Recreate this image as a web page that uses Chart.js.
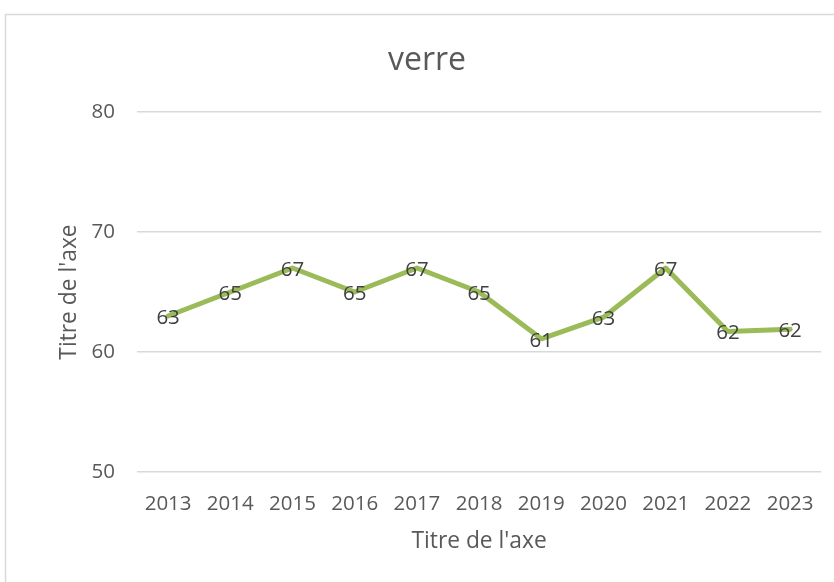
<!DOCTYPE html>
<html>
<head>
<meta charset="utf-8">
<script src="https://cdn.jsdelivr.net/npm/chart.js@4/dist/chart.umd.min.js"></script>
<style>
  html, body { margin: 0; padding: 0; background: #ffffff; }
  canvas { display: block; }
</style>
</head>
<body>
<canvas id="c" width="834" height="582"></canvas>
<script>
const chartTitle = "verre";
const axisTitle = "Titre de l'axe";
const years = ["2013", "2014", "2015", "2016", "2017", "2018", "2019", "2020", "2021", "2022", "2023"];
const verreValues = [63, 65, 67, 65, 67, 65, 61.1, 62.9, 67, 61.7, 61.9];
const yTicks = [50, 60, 70, 80];

const FONT = "'Open Sans', 'DejaVu Sans', sans-serif";
const TEXT = "#595959";

const frame = {
  id: 'frame',
  beforeDraw(chart) {
    const ctx = chart.ctx;
    ctx.save();
    ctx.fillStyle = '#ffffff';
    ctx.fillRect(0, 0, chart.width, chart.height);
    ctx.strokeStyle = '#d9d9d9';
    ctx.lineWidth = 1.5;
    ctx.strokeRect(5.5, 14.5, 1000, 1000);
    ctx.restore();
  },
  afterLayout(chart) {
    if (chart.titleBlock) {
      chart.titleBlock.left = 30;
      chart.titleBlock.right = 824;
    }
  }
};

const dataLabels = {
  id: 'dataLabels',
  afterDatasetsDraw(chart) {
    const ctx = chart.ctx;
    ctx.save();
    ctx.font = "20.5px " + FONT;
    ctx.fillStyle = '#404040';
    ctx.textAlign = 'center';
    ctx.textBaseline = 'middle';
    chart.getDatasetMeta(0).data.forEach((pt, i) => {
      const v = chart.data.datasets[0].data[i];
      ctx.fillText(String(Math.round(v)), pt.x, pt.y + 2);
    });
    ctx.restore();
  }
};

new Chart(document.getElementById('c'), {
  type: 'line',
  data: {
    labels: years,
    datasets: [{
      label: chartTitle,
      data: verreValues,
      borderColor: '#9BBB59',
      backgroundColor: '#9BBB59',
      borderWidth: 5,
      borderJoinStyle: 'round',
      borderCapStyle: 'round',
      pointRadius: 0,
      tension: 0,
      fill: false
    }]
  },
  options: {
    responsive: false,
    animation: false,
    events: [],
    layout: { padding: { left: 0, right: 10, top: 0, bottom: 0 } },
    plugins: {
      legend: { display: false },
      tooltip: { enabled: false },
      title: {
        display: true,
        text: chartTitle,
        color: TEXT,
        font: { family: FONT, size: 32, weight: 'normal', lineHeight: 1.2 },
        padding: { top: 41.6, bottom: 32 }
      }
    },
    scales: {
      x: {
        offset: true,
        grid: { display: false, drawTicks: false },
        border: { display: false },
        ticks: {
          color: TEXT,
          font: { family: FONT, size: 20.5 },
          padding: 20,
          maxRotation: 0,
          autoSkip: false
        },
        title: {
          display: true,
          text: axisTitle,
          color: TEXT,
          font: { family: FONT, size: 22.8, lineHeight: 1.2 },
          padding: { top: 0, bottom: 27.3 }
        },
        afterFit(s) { s.height = 110; }
      },
      y: {
        min: 50,
        max: 80,
        afterBuildTicks(s) { s.ticks = yTicks.map(v => ({ value: v })); },
        grid: { color: '#d9d9d9', lineWidth: 1.5, drawTicks: false },
        border: { display: false },
        ticks: {
          color: TEXT,
          font: { family: FONT, size: 20.5 },
          padding: 22
        },
        title: {
          display: true,
          text: axisTitle,
          color: TEXT,
          font: { family: FONT, size: 22.8, lineHeight: 1.2 },
          padding: { top: 55.5, bottom: 0 }
        },
        afterFit(s) { s.width = 137; }
      }
    }
  },
  plugins: [frame, dataLabels]
});
</script>
</body>
</html>
